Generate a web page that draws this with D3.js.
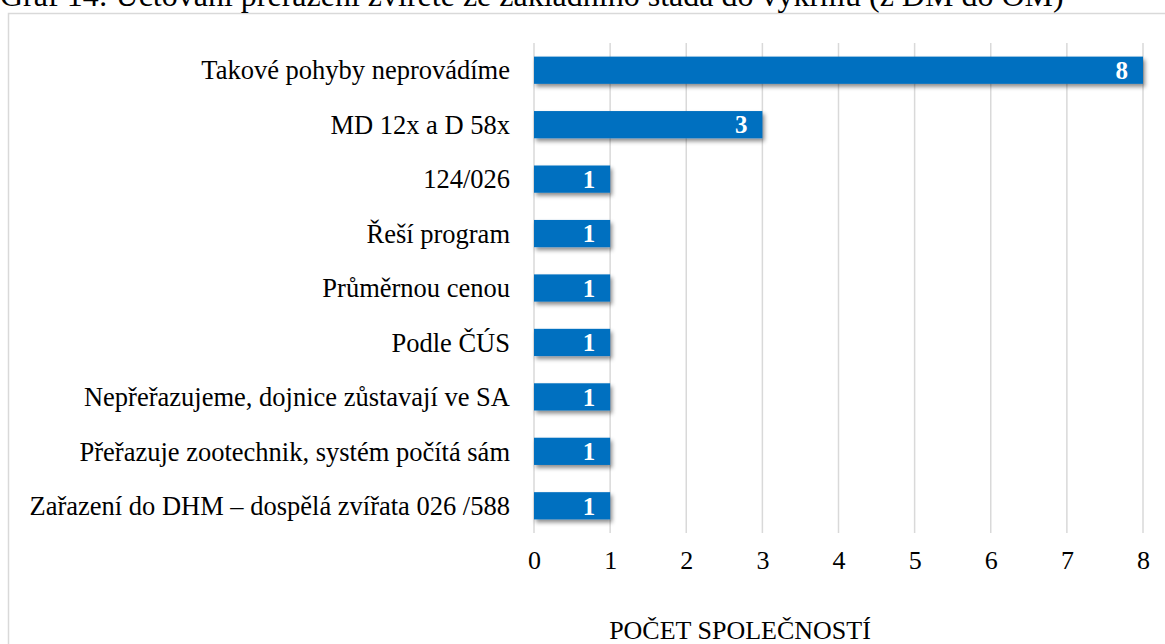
<!DOCTYPE html>
<html><head><meta charset="utf-8">
<script src="https://cdn.jsdelivr.net/npm/d3@7"></script>
<style>html,body{margin:0;padding:0;background:#fff;overflow:hidden}</style>
</head><body>
<svg id="c" width="1165" height="644"></svg>
<script>
const categories = [
  "Takové pohyby neprovádíme",
  "MD 12x a D 58x",
  "124/026",
  "Řeší program",
  "Průměrnou cenou",
  "Podle ČÚS",
  "Nepřeřazujeme, dojnice zůstavají ve SA",
  "Přeřazuje zootechnik, systém počítá sám",
  "Zařazení do DHM – dospělá zvířata 026 /588"
];
const values = [8, 3, 1, 1, 1, 1, 1, 1, 1];
const tickValues = [0, 1, 2, 3, 4, 5, 6, 7, 8];
const titleText = "Graf 14: Účtování přeřazení zvířete ze základního stáda do výkrmu (z DM do OM)";
const axisTitle = "POČET SPOLEČNOSTÍ";

const svg = d3.select("#c");
const font = "'Liberation Serif','Times New Roman',serif";

const defs = svg.append("defs");
const f = defs.append("filter").attr("id","sh").attr("x","-10%").attr("y","-30%").attr("width","130%").attr("height","200%");
f.append("feDropShadow").attr("dx",2).attr("dy",3).attr("stdDeviation",2).attr("flood-color","#000").attr("flood-opacity",0.45);

// frame
svg.append("rect").attr("x",8.5).attr("y",13.5).attr("width",1170).attr("height",700)
  .attr("fill","#fff").attr("stroke","#d9d9d9").attr("stroke-width",1.5);

// title (clipped at top, as in the reference)
svg.append("text").attr("x",0).attr("y",6).attr("font-family",font).attr("font-size",32)
  .attr("fill","#000").text(titleText);

const x = d3.scaleLinear().domain([0, 8]).range([534, 1143]);
const y = d3.scaleBand().domain(categories).range([43, 533]).paddingInner(0.5).paddingOuter(0.25);

// gridlines
svg.append("g").selectAll("line").data(tickValues).join("line")
  .attr("x1", d => x(d)).attr("x2", d => x(d)).attr("y1", 43).attr("y2", 533)
  .attr("stroke", "#d9d9d9").attr("stroke-width", 1.5);

// bars
svg.append("g").selectAll("rect").data(values).join("rect")
  .attr("x", x(0)).attr("y", (d,i) => y(categories[i]))
  .attr("width", d => x(d) - x(0)).attr("height", y.bandwidth())
  .attr("fill", "#0070c0").attr("filter","url(#sh)");

// value labels
svg.append("g").selectAll("text").data(values).join("text")
  .attr("x", d => x(d) - 15).attr("y", (d,i) => y(categories[i]) + y.bandwidth()/2)
  .attr("dy","0.35em").attr("text-anchor","end")
  .attr("font-family",font).attr("font-size",25).attr("font-weight","bold").attr("fill","#fff")
  .text(d => d);

// category labels
svg.append("g").selectAll("text").data(categories).join("text")
  .attr("x", 510).attr("y", d => y(d) + y.bandwidth()/2).attr("dy","0.35em")
  .attr("text-anchor","end").attr("font-family",font).attr("font-size",26.5).attr("fill","#000")
  .text(d => d);

// x axis
const ax = svg.append("g").attr("transform","translate(0,533)")
  .call(d3.axisBottom(x).tickValues(tickValues).tickSize(0).tickPadding(18).tickFormat(d3.format("d")));
ax.select(".domain").remove();
ax.selectAll("text").attr("font-family",font).attr("font-size",26).attr("fill","#000");

svg.append("text").attr("x",740).attr("y",639).attr("text-anchor","middle")
  .attr("font-family",font).attr("font-size",26).attr("fill","#000").text(axisTitle);
</script>
</body></html>
